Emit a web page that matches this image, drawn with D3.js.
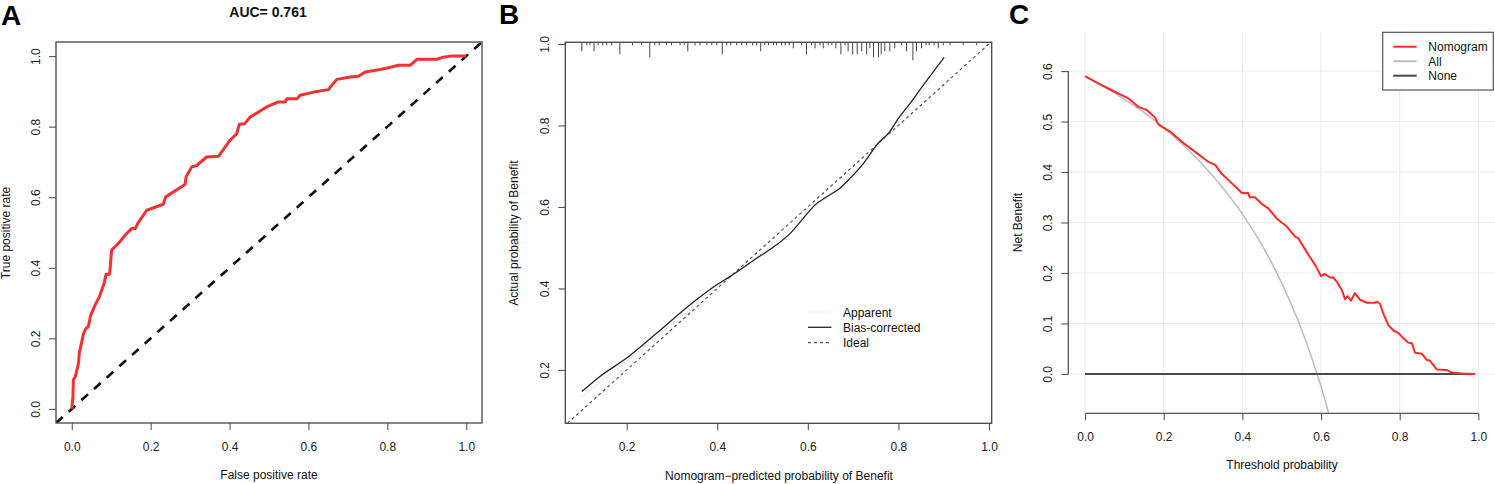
<!DOCTYPE html>
<html>
<head>
<meta charset="utf-8">
<script src="https://cdn.jsdelivr.net/npm/d3@7"></script>
<style>
body { margin: 0; background: #fff; }
text { font-family: "Liberation Sans", Arial, sans-serif; }
</style>
</head>
<body>
<div id="chart-area"></div>
<script>
/*
*    three panels: ROC, calibration, decision curve
*/

// A - ROC curve
var rocFpr = [0,0.003,0.004,0.009,0.017,0.019,0.030,0.036,0.042,0.048,0.059,0.070,0.082,0.087,0.096,0.101,0.118,0.139,0.152,0.161,
	0.167,0.190,0.232,0.238,0.287,0.290,0.304,0.317,0.342,0.372,0.401,0.418,0.425,0.438,0.452,0.494,0.524,0.541,0.545,0.571,
	0.579,0.613,0.651,0.659,0.672,0.706,0.727,0.744,0.782,0.811,0.828,0.858,0.875,0.926,0.942,0.959,1];
var rocTpr = [0,0.035,0.082,0.092,0.129,0.158,0.214,0.228,0.233,0.266,0.294,0.318,0.356,0.382,0.382,0.450,0.469,0.497,0.511,0.511,
	0.525,0.563,0.580,0.601,0.636,0.658,0.686,0.690,0.714,0.716,0.761,0.780,0.807,0.808,0.827,0.856,0.870,0.870,0.879,0.879,
	0.889,0.898,0.905,0.917,0.934,0.941,0.943,0.955,0.962,0.969,0.974,0.974,0.991,0.991,0.997,1,1];
var diagA = [-0.04, 1.04];
var aucTitle = "AUC= 0.761";
var ticksA = [0, 0.2, 0.4, 0.6, 0.8, 1.0];

// B - calibration
var calPred = [0.101,0.141,0.200,0.266,0.340,0.399,0.428,0.487,0.531,0.561,0.590,0.616,0.642,0.671,0.693,0.723,0.752,0.781,0.803,0.826,0.855,0.901];
var calBias = [0.147,0.184,0.229,0.290,0.360,0.409,0.429,0.474,0.507,0.535,0.572,0.605,0.625,0.646,0.670,0.707,0.752,0.785,0.822,0.854,0.899,0.967];
var appPred = [0.101,0.2,0.3,0.4,0.5,0.6,0.7,0.8,0.901];
var appObs = [0.135,0.222,0.312,0.405,0.488,0.585,0.683,0.808,0.955];
var idealB = [0.069, 1.004];
var rugPred = [0.101,0.112,0.119,0.128,0.137,0.147,0.156,0.167,0.185,0.213,
	0.233,0.251,0.262,0.272,0.288,0.299,0.318,0.327,0.335,0.351,
	0.362,0.377,0.388,0.399,0.411,0.421,0.430,0.443,0.454,0.465,
	0.478,0.487,0.496,0.505,0.513,0.524,0.531,0.542,0.550,0.559,
	0.568,0.586,0.597,0.608,0.616,0.627,0.634,0.645,0.653,0.662,
	0.673,0.682,0.689,0.699,0.709,0.719,0.730,0.737,0.745,0.756,
	0.762,0.770,0.781,0.792,0.807,0.818,0.832,0.840,0.851,0.861,
	0.868,0.879,0.888,0.899,0.914,0.943,0.973];
var rugCount = [3,1,1,3,1,1,1,1,4,1,
	1,5,1,1,1,1,1,1,3,1,
	1,1,1,1,4,1,1,1,1,1,
	1,1,3,1,1,1,1,1,1,1,
	2,1,4,1,2,1,2,1,1,2,
	4,1,3,4,4,3,4,2,5,5,
	4,3,3,2,1,3,6,3,2,1,
	1,1,2,1,1,1,1];
var legendB = ["Apparent", "Bias-corrected", "Ideal"];
var ticksB = [0.2, 0.4, 0.6, 0.8, 1.0];

// C - decision curve
var dcaThresh = [0,0.025,0.068,0.110,0.136,0.157,0.178,0.186,0.195,0.220,0.246,0.280,0.314,0.331,0.347,0.373,0.398,0.407,0.414,0.419,
	0.432,0.449,0.466,0.487,0.513,0.534,0.542,0.568,0.585,0.600,0.610,0.623,0.631,0.640,0.653,0.661,0.668,0.676,0.686,0.699,
	0.716,0.737,0.742,0.750,0.758,0.771,0.784,0.797,0.809,0.822,0.831,0.839,0.856,0.869,0.877,0.894,0.919,0.932,0.958,0.992];
var dcaNomogram = [0.590,0.579,0.562,0.546,0.529,0.523,0.508,0.495,0.490,0.478,0.460,0.440,0.420,0.414,0.397,0.378,0.359,0.358,0.359,0.350,
	0.350,0.337,0.328,0.308,0.292,0.272,0.269,0.236,0.216,0.194,0.198,0.191,0.191,0.183,0.166,0.148,0.154,0.145,0.160,0.147,
	0.141,0.141,0.143,0.139,0.120,0.097,0.086,0.081,0.071,0.062,0.061,0.042,0.040,0.028,0.026,0.009,0.008,0.003,0.001,0.000];
var allThresh = [0,0.05,0.1,0.15,0.2,0.25,0.3,0.35,0.4,0.45,0.5,0.55,0.575,0.6,0.625];
var allNet = [0.590,0.568,0.544,0.518,0.488,0.453,0.414,0.369,0.317,0.255,0.180,0.089,0.035,-0.025,-0.093];
var noneThresh = [0, 0.99];
var noneNet = [0, 0];
var legendC = ["Nomogram", "All", "None"];
var ticksCx = [0, 0.2, 0.4, 0.6, 0.8, 1.0];
var ticksCy = [0, 0.1, 0.2, 0.3, 0.4, 0.5, 0.6];


var svg = d3.select("#chart-area").append("svg").attr("width", 1495).attr("height", 484);
var fmt = d3.format(".1f");
var zip = (xs, ys) => xs.map((v, i) => [v, ys[i]]);

function bottomAxis(scale, ticks, yPos) {
	var g = svg.append("g").attr("transform", "translate(0," + yPos + ")")
		.call(d3.axisBottom(scale).tickValues(ticks).tickSize(7).tickFormat(fmt));
	g.select(".domain").remove();
	g.selectAll(".tick line").attr("stroke", "#555").attr("stroke-width", 1.1);
	g.selectAll(".tick text").attr("y", 28).attr("dy", 0).attr("font-size", 12).attr("fill", "#222");
}

function leftAxis(scale, ticks, xPos) {
	var g = svg.append("g").attr("transform", "translate(" + xPos + ",0)")
		.call(d3.axisLeft(scale).tickValues(ticks).tickSize(7).tickFormat(fmt));
	g.select(".domain").remove();
	g.selectAll(".tick line").attr("stroke", "#555").attr("stroke-width", 1.1);
	g.selectAll(".tick text").attr("x", 0).attr("y", 0).attr("dy", 0)
		.attr("transform", "translate(-16,0) rotate(-90)").attr("text-anchor", "middle")
		.attr("font-size", 12).attr("fill", "#222");
}

function label(x, y, txt, size, weight, rot) {
	return svg.append("text").attr("x", x).attr("y", y).attr("font-size", size).attr("font-weight", weight || "normal")
		.attr("text-anchor", "middle").attr("fill", "#111")
		.attr("transform", rot ? "rotate(-90," + x + "," + y + ")" : null).text(txt);
}

function clipRect(id, x0, y0, x1, y1) {
	svg.append("clipPath").attr("id", id).append("rect").attr("x", x0).attr("y", y0).attr("width", x1 - x0).attr("height", y1 - y0);
}

// ---------- panel A ----------
var xA = d3.scaleLinear().domain([-0.04, 1.04]).range([56, 482]);
var yA = d3.scaleLinear().domain([-0.04, 1.04]).range([423, 42]);
var lineA = d3.line().x((d) => xA(d[0])).y((d) => yA(d[1]));
clipRect("clipA", 56, 42, 482, 423);

svg.append("path").attr("clip-path", "url(#clipA)").attr("d", lineA(zip(diagA, diagA)))
	.attr("fill", "none").attr("stroke", "#111").attr("stroke-width", 2.6).attr("stroke-dasharray", "9,8");
svg.append("path").attr("d", lineA(zip(rocFpr, rocTpr)))
	.attr("fill", "none").attr("stroke", "#f03232").attr("stroke-width", 3).attr("stroke-linejoin", "round");
svg.append("rect").attr("x", 56).attr("y", 42).attr("width", 426).attr("height", 381)
	.attr("fill", "none").attr("stroke", "#444").attr("stroke-width", 1.3);
bottomAxis(xA, ticksA, 423);
leftAxis(yA, ticksA, 56);
label(268, 17, aucTitle, 14, "bold");
label(269, 479, "False positive rate", 12);
label(10, 233, "True positive rate", 12, null, true);
svg.append("text").attr("x", 1).attr("y", 25).attr("font-size", 28).attr("font-weight", "bold").text("A");

// ---------- panel B ----------
var xB = d3.scaleLinear().domain([0.0645, 1.006]).range([565.3, 991.7]);
var yB = d3.scaleLinear().domain([0.069, 1.004]).range([423.3, 42.3]);
var lineB = d3.line().x((d) => xB(d[0])).y((d) => yB(d[1]));
var rugLen = d3.scaleLinear().domain([0, 6]).range([0, 18]);

svg.append("path").attr("d", lineB(zip(idealB, idealB)))
	.attr("fill", "none").attr("stroke", "#555").attr("stroke-width", 1.2).attr("stroke-dasharray", "3,3");
svg.append("path").attr("d", lineB.curve(d3.curveMonotoneX)(zip(appPred, appObs)))
	.attr("fill", "none").attr("stroke", "#c4c4c4").attr("stroke-width", 1).attr("stroke-dasharray", "1,2");
svg.append("path").attr("d", lineB.curve(d3.curveMonotoneX)(zip(calPred, calBias)))
	.attr("fill", "none").attr("stroke", "#222").attr("stroke-width", 1.3);
svg.selectAll(".rug").data(zip(rugPred, rugCount)).enter().append("line").attr("class", "rug")
	.attr("x1", (d) => xB(d[0])).attr("x2", (d) => xB(d[0]))
	.attr("y1", 42.3).attr("y2", (d) => 42.3 + rugLen(d[1]))
	.attr("stroke", "#444").attr("stroke-width", 1);
svg.append("rect").attr("x", 565.3).attr("y", 42.3).attr("width", 426.4).attr("height", 381)
	.attr("fill", "none").attr("stroke", "#444").attr("stroke-width", 1.3);
bottomAxis(xB, ticksB, 423.3);
leftAxis(yB, ticksB, 565.3);
label(779, 480, "Nomogram\u2212predicted probability of Benefit", 12);
label(518, 233, "Actual probability of Benefit", 12, null, true);
svg.append("text").attr("x", 499).attr("y", 24).attr("font-size", 28).attr("font-weight", "bold").text("B");

var legB = svg.append("g");
var legBStyle = [
	{stroke: "#c4c4c4", dash: "1,2", w: 1},
	{stroke: "#222", dash: null, w: 1.3},
	{stroke: "#555", dash: "3,3", w: 1.2}
];
legendB.forEach((name, i) => {
	var row = legB.append("g").attr("transform", "translate(808," + (312 + i * 15.3) + ")");
	row.append("line").attr("x1", 0).attr("x2", 23.5).attr("stroke", legBStyle[i].stroke)
		.attr("stroke-width", legBStyle[i].w).attr("stroke-dasharray", legBStyle[i].dash);
	row.append("text").attr("x", 35).attr("y", 4.5).attr("font-size", 12).attr("fill", "#111").text(name);
});

// ---------- panel C ----------
var xC = d3.scaleLinear().domain([-0.04, 1.04]).range([1069.3, 1494.1]);
var yC = d3.scaleLinear().domain([-0.078, 0.678]).range([413.3, 31.7]);
var lineC = d3.line().x((d) => xC(d[0])).y((d) => yC(d[1]));
clipRect("clipC", 1069.3, 31.7, 1495, 413.3);

svg.selectAll(".vgrid").data(ticksCx).enter().append("line").attr("class", "vgrid")
	.attr("x1", (d) => xC(d)).attr("x2", (d) => xC(d)).attr("y1", 31.7).attr("y2", 413.3)
	.attr("stroke", "#ebebeb").attr("stroke-width", 1);
svg.selectAll(".hgrid").data(ticksCy).enter().append("line").attr("class", "hgrid")
	.attr("x1", 1069.3).attr("x2", 1495).attr("y1", (d) => yC(d)).attr("y2", (d) => yC(d))
	.attr("stroke", "#ebebeb").attr("stroke-width", 1);

svg.append("path").attr("clip-path", "url(#clipC)").attr("d", lineC.curve(d3.curveMonotoneX)(zip(allThresh, allNet)))
	.attr("fill", "none").attr("stroke", "#bdbdbd").attr("stroke-width", 1.5);
svg.append("path").attr("d", lineC.curve(d3.curveLinear)(zip(noneThresh, noneNet)))
	.attr("fill", "none").attr("stroke", "#4a4a4a").attr("stroke-width", 2);
svg.append("path").attr("d", lineC.curve(d3.curveLinear)(zip(dcaThresh, dcaNomogram)))
	.attr("fill", "none").attr("stroke", "#ff2b2b").attr("stroke-width", 2).attr("stroke-linejoin", "round");

svg.append("line").attr("x1", xC(0)).attr("x2", xC(1)).attr("y1", 413.3).attr("y2", 413.3)
	.attr("stroke", "#555").attr("stroke-width", 1.3);
svg.append("line").attr("x1", 1068.3).attr("x2", 1068.3).attr("y1", yC(0)).attr("y2", yC(0.6))
	.attr("stroke", "#555").attr("stroke-width", 1.3);
bottomAxis(xC, ticksCx, 413.3);
leftAxis(yC, ticksCy, 1068.3);
label(1282, 469, "Threshold probability", 12);
label(1022, 222.5, "Net Benefit", 12, null, true);
svg.append("text").attr("x", 1009).attr("y", 24).attr("font-size", 28).attr("font-weight", "bold").text("C");

var legC = svg.append("g");
legC.append("rect").attr("x", 1382.7).attr("y", 32.3).attr("width", 110.6).attr("height", 57.7)
	.attr("fill", "#fff").attr("stroke", "#555").attr("stroke-width", 1.2);
var legCColor = ["#ff2b2b", "#bdbdbd", "#4a4a4a"];
legendC.forEach((name, i) => {
	var row = legC.append("g").attr("transform", "translate(1393.3," + (46.7 + i * 14.5) + ")");
	row.append("line").attr("x1", 0).attr("x2", 23.4).attr("stroke", legCColor[i]).attr("stroke-width", 2);
	row.append("text").attr("x", 35).attr("y", 4.5).attr("font-size", 12).attr("fill", "#111").text(name);
});
</script>
</body>
</html>
